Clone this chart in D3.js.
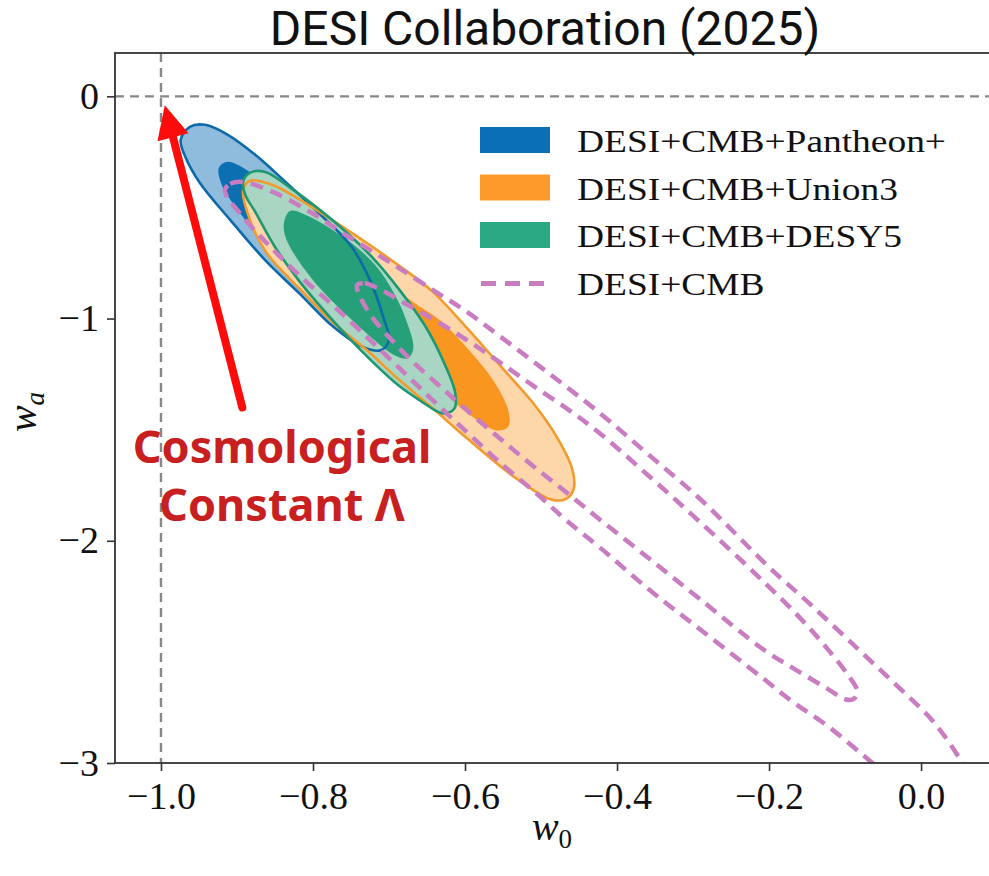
<!DOCTYPE html>
<html>
<head>
<meta charset="utf-8">
<script src="https://cdn.jsdelivr.net/npm/d3@7"></script>
<style>
  body { margin: 0; background: #fff; }
</style>
</head>
<body>
<div class="chart-container"></div>
<script>
// . . . data (w0, wa)

const xTicks = [-1.0, -0.8, -0.6, -0.4, -0.2, 0.0];
const yTicks = [0, -1, -2, -3];

const seriesNames = ['DESI+CMB+Pantheon+', 'DESI+CMB+Union3', 'DESI+CMB+DESY5', 'DESI+CMB'];

// DESI+CMB+Pantheon+
const pantheon95 = [[-0.974,-0.195],[-0.962,-0.137],[-0.942,-0.128],[-0.912,-0.173],[-0.876,-0.263],[-0.839,-0.376],[-0.797,-0.511],[-0.751,-0.669],[-0.725,-0.827],[-0.707,-0.999],[-0.700,-1.098],[-0.711,-1.143],[-0.736,-1.125],[-0.774,-1.035],[-0.817,-0.890],[-0.863,-0.737],[-0.909,-0.556],[-0.949,-0.389],[-0.968,-0.272]];
const pantheon68 = [[-0.924,-0.322],[-0.914,-0.295],[-0.896,-0.313],[-0.870,-0.376],[-0.830,-0.489],[-0.791,-0.624],[-0.751,-0.773],[-0.728,-0.908],[-0.720,-1.008],[-0.729,-1.040],[-0.751,-1.012],[-0.789,-0.916],[-0.826,-0.790],[-0.867,-0.647],[-0.897,-0.520],[-0.920,-0.399]];

// DESI+CMB+Union3
const union95 = [[-0.892,-0.421],[-0.883,-0.380],[-0.854,-0.398],[-0.817,-0.466],[-0.751,-0.610],[-0.686,-0.764],[-0.642,-0.881],[-0.597,-1.044],[-0.554,-1.211],[-0.511,-1.378],[-0.478,-1.540],[-0.459,-1.676],[-0.457,-1.766],[-0.467,-1.811],[-0.486,-1.815],[-0.532,-1.721],[-0.597,-1.540],[-0.642,-1.405],[-0.686,-1.278],[-0.729,-1.143],[-0.774,-1.017],[-0.817,-0.868],[-0.861,-0.705],[-0.883,-0.556]];
const union68 = [[-0.764,-0.723],[-0.738,-0.746],[-0.699,-0.850],[-0.666,-0.931],[-0.633,-1.008],[-0.597,-1.134],[-0.563,-1.278],[-0.543,-1.414],[-0.543,-1.486],[-0.558,-1.504],[-0.587,-1.450],[-0.620,-1.360],[-0.659,-1.233],[-0.699,-1.089],[-0.738,-0.918],[-0.761,-0.791]];

// DESI+CMB+DESY5
const desy95 = [[-0.892,-0.385],[-0.883,-0.344],[-0.863,-0.340],[-0.826,-0.421],[-0.791,-0.511],[-0.755,-0.615],[-0.721,-0.728],[-0.686,-0.872],[-0.653,-1.030],[-0.629,-1.188],[-0.613,-1.333],[-0.614,-1.405],[-0.629,-1.427],[-0.659,-1.369],[-0.686,-1.305],[-0.729,-1.170],[-0.774,-1.008],[-0.817,-0.836],[-0.850,-0.678],[-0.876,-0.520],[-0.889,-0.444]];
const desy68 = [[-0.838,-0.565],[-0.830,-0.516],[-0.804,-0.543],[-0.755,-0.647],[-0.718,-0.760],[-0.692,-0.895],[-0.675,-1.030],[-0.668,-1.134],[-0.675,-1.179],[-0.692,-1.166],[-0.738,-1.040],[-0.791,-0.863],[-0.824,-0.714],[-0.837,-0.624]];

// DESI+CMB (dashed, no fill)
const cmb95 = [[-0.916,-0.421],[-0.909,-0.394],[-0.893,-0.385],[-0.853,-0.430],[-0.804,-0.520],[-0.755,-0.628],[-0.695,-0.755],[-0.642,-0.872],[-0.597,-0.971],[-0.554,-1.080],[-0.488,-1.251],[-0.422,-1.427],[-0.357,-1.617],[-0.291,-1.811],[-0.199,-2.122],[-0.146,-2.285],[-0.080,-2.497],[-0.028,-2.664],[0.016,-2.813],[0.055,-3.002],[0.084,-3.174],[0.104,-3.354],[0.114,-3.490],[0.104,-3.557],[0.084,-3.526],[0.038,-3.332],[-0.028,-3.106],[-0.071,-2.980],[-0.124,-2.831],[-0.168,-2.727],[-0.208,-2.619],[-0.291,-2.398],[-0.357,-2.222],[-0.422,-2.032],[-0.466,-1.910],[-0.501,-1.802],[-0.554,-1.648],[-0.597,-1.513],[-0.642,-1.369],[-0.686,-1.224],[-0.729,-1.084],[-0.774,-0.940],[-0.817,-0.809],[-0.857,-0.674],[-0.883,-0.579],[-0.903,-0.498],[-0.913,-0.453]];
const cmb68 = [[-0.742,-0.850],[-0.732,-0.841],[-0.712,-0.868],[-0.686,-0.918],[-0.642,-1.003],[-0.597,-1.098],[-0.554,-1.197],[-0.511,-1.301],[-0.466,-1.405],[-0.422,-1.518],[-0.357,-1.712],[-0.291,-1.915],[-0.208,-2.181],[-0.159,-2.348],[-0.124,-2.483],[-0.097,-2.600],[-0.084,-2.677],[-0.089,-2.713],[-0.100,-2.713],[-0.124,-2.664],[-0.168,-2.574],[-0.208,-2.488],[-0.291,-2.262],[-0.357,-2.082],[-0.422,-1.906],[-0.466,-1.784],[-0.511,-1.662],[-0.554,-1.540],[-0.597,-1.414],[-0.633,-1.305],[-0.668,-1.197],[-0.695,-1.102],[-0.721,-0.999],[-0.737,-0.909]];

// annotation: arrow pointing at the cosmological constant (w0=-1, wa=0)
const arrowTail = [-0.893, -1.40];
const arrowTip = [-0.995, -0.04];
const annotationLines = ['Cosmological', 'Constant \u039B'];

// . . . layout

const width = 989;
const height = 876;
const plot = { left: 115, right: 1010, top: 53, bottom: 763 };

const svg = d3.select('.chart-container')
    .append('svg')
    .attr('width', width)
    .attr('height', height);

// scales
const x = d3.scaleLinear()
    .domain([-1.0605, 0.117])
    .range([plot.left, plot.right]);

const y = d3.scaleLinear()
    .domain([-3, 0.195])
    .range([plot.bottom, plot.top]);

svg.append('defs').append('clipPath')
    .attr('id', 'plot-clip')
    .append('rect')
    .attr('x', plot.left)
    .attr('y', plot.top)
    .attr('width', plot.right - plot.left)
    .attr('height', plot.bottom - plot.top);

const inner = svg.append('g').attr('clip-path', 'url(#plot-clip)');

// reference lines w0 = -1, wa = 0
inner.append('line')
    .attr('x1', x(-1)).attr('x2', x(-1))
    .attr('y1', plot.top).attr('y2', plot.bottom)
    .attr('stroke', '#888')
    .attr('stroke-width', 2.4)
    .attr('stroke-dasharray', '9,6');

inner.append('line')
    .attr('x1', plot.left).attr('x2', plot.right)
    .attr('y1', y(0)).attr('y2', y(0))
    .attr('stroke', '#888')
    .attr('stroke-width', 2.4)
    .attr('stroke-dasharray', '9,6');

const contour = d3.line()
    .x(d => x(d[0]))
    .y(d => y(d[1]))
    .curve(d3.curveCatmullRomClosed.alpha(0.5));

// filled contours, 95% then 68%
const fills = [
    { data: pantheon95, fill: '#8fbcdc' },
    { data: pantheon68, fill: '#0b6fb2' },
    { data: union95, fill: '#fdd6aa' },
    { data: union68, fill: '#f9961f' },
    { data: desy95, fill: '#a8d6c3' },
    { data: desy68, fill: '#25a078' }
];

inner.selectAll('.fill')
    .data(fills)
    .enter().append('path')
    .attr('class', 'fill')
    .attr('d', d => contour(d.data))
    .attr('fill', d => d.fill)
    .attr('stroke', 'none');

// outer contour outlines
const outlines = [
    { data: pantheon95, stroke: '#0d6aa9' },
    { data: union95, stroke: '#f39a2c' },
    { data: desy95, stroke: '#1e9870' }
];

inner.selectAll('.outline')
    .data(outlines)
    .enter().append('path')
    .attr('class', 'outline')
    .attr('d', d => contour(d.data))
    .attr('fill', 'none')
    .attr('stroke', d => d.stroke)
    .attr('stroke-width', 2.6);

// DESI+CMB dashed contours
inner.selectAll('.cmb')
    .data([cmb95, cmb68])
    .enter().append('path')
    .attr('class', 'cmb')
    .attr('d', d => contour(d))
    .attr('fill', 'none')
    .attr('stroke', '#c97cc0')
    .attr('stroke-width', 4.5)
    .attr('stroke-dasharray', '13,8');

// spines
svg.append('rect')
    .attr('x', plot.left)
    .attr('y', plot.top)
    .attr('width', plot.right - plot.left)
    .attr('height', plot.bottom - plot.top)
    .attr('fill', 'none')
    .attr('stroke', '#333')
    .attr('stroke-width', 1.8);

// axes
const xAxis = svg.append('g')
    .attr('transform', `translate(0, ${plot.bottom})`)
    .call(d3.axisBottom(x).tickValues(xTicks).tickFormat(d3.format('.1f')).tickSize(8).tickPadding(11));

const yAxis = svg.append('g')
    .attr('transform', `translate(${plot.left}, 0)`)
    .call(d3.axisLeft(y).tickValues(yTicks).tickFormat(d3.format('d')).tickSize(8).tickPadding(8));

[xAxis, yAxis].forEach(ax => {
    ax.select('.domain').remove();
    ax.selectAll('line').attr('stroke', '#333').attr('stroke-width', 1.6);
    ax.selectAll('text')
        .attr('fill', '#111')
        .style('font-family', '"Liberation Serif", serif')
        .style('font-size', '38px');
});

// axis labels
const xLabel = svg.append('text')
    .attr('x', 552)
    .attr('y', 840)
    .attr('text-anchor', 'middle')
    .attr('fill', '#111')
    .style('font-family', '"Liberation Serif", serif')
    .style('font-size', '40px');
xLabel.append('tspan').style('font-style', 'italic').text('w');
xLabel.append('tspan').attr('dy', 8).style('font-size', '27px').text('0');

const yLabel = svg.append('text')
    .attr('transform', 'translate(36, 412) rotate(-90)')
    .attr('text-anchor', 'middle')
    .attr('fill', '#111')
    .style('font-family', '"Liberation Serif", serif')
    .style('font-size', '40px');
yLabel.append('tspan').style('font-style', 'italic').text('w');
yLabel.append('tspan').attr('dy', 8).style('font-size', '27px').style('font-style', 'italic').text('a');

// legend
const legendItems = [
    { name: seriesNames[0], color: '#0a6fb4', dashed: false },
    { name: seriesNames[1], color: '#fc9b2b', dashed: false },
    { name: seriesNames[2], color: '#2aa984', dashed: false },
    { name: seriesNames[3], color: '#c97cc0', dashed: true }
];

const legend = svg.append('g').attr('transform', 'translate(480, 127)');
const rowGap = 47.5;

legendItems.forEach((item, i) => {
    const row = legend.append('g').attr('transform', `translate(0, ${i * rowGap})`);
    if (item.dashed) {
        row.append('line')
            .attr('x1', 1).attr('x2', 70)
            .attr('y1', 14).attr('y2', 14)
            .attr('stroke', item.color)
            .attr('stroke-width', 5)
            .attr('stroke-dasharray', '15,9');
    } else {
        row.append('rect')
            .attr('width', 70)
            .attr('height', 26)
            .attr('fill', item.color);
    }
    row.append('text')
        .attr('transform', 'translate(97, 25) scale(1.17, 1)')
        .attr('fill', '#111')
        .style('font-family', '"Liberation Serif", serif')
        .style('font-size', '32px')
        .text(item.name);
});

// arrow to Lambda
const tail = [x(arrowTail[0]), y(arrowTail[1])];
const tip = [x(arrowTip[0]), y(arrowTip[1])];
const len = Math.hypot(tip[0] - tail[0], tip[1] - tail[1]);
const ux = (tip[0] - tail[0]) / len;
const uy = (tip[1] - tail[1]) / len;
const headLen = 33;
const headHalf = 16;
const base = [tip[0] - ux * headLen, tip[1] - uy * headLen];

svg.append('line')
    .attr('x1', tail[0]).attr('y1', tail[1])
    .attr('x2', base[0] + ux * 4).attr('y2', base[1] + uy * 4)
    .attr('stroke', '#fe0c0c')
    .attr('stroke-width', 8)
    .attr('stroke-linecap', 'round');

svg.append('path')
    .attr('d', `M${tip[0]},${tip[1]} L${base[0] - uy * headHalf},${base[1] + ux * headHalf} L${base[0] + uy * headHalf},${base[1] - ux * headHalf} Z`)
    .attr('fill', '#fe0c0c');

svg.selectAll('.annotation')
    .data(annotationLines)
    .enter().append('text')
    .attr('class', 'annotation')
    .attr('x', 282)
    .attr('y', (d, i) => 463 + i * 58)
    .attr('text-anchor', 'middle')
    .attr('fill', '#c82020')
    .style('font-family', '"Noto Sans", sans-serif')
    .style('font-weight', 'bold')
    .style('font-size', '45px')
    .text(d => d);

// title
svg.append('text')
    .attr('x', 545)
    .attr('y', 45)
    .attr('text-anchor', 'middle')
    .attr('fill', '#111')
    .style('font-family', 'Roboto, sans-serif')
    .style('font-size', '48px')
    .text('DESI Collaboration (2025)');
</script>
</body>
</html>
